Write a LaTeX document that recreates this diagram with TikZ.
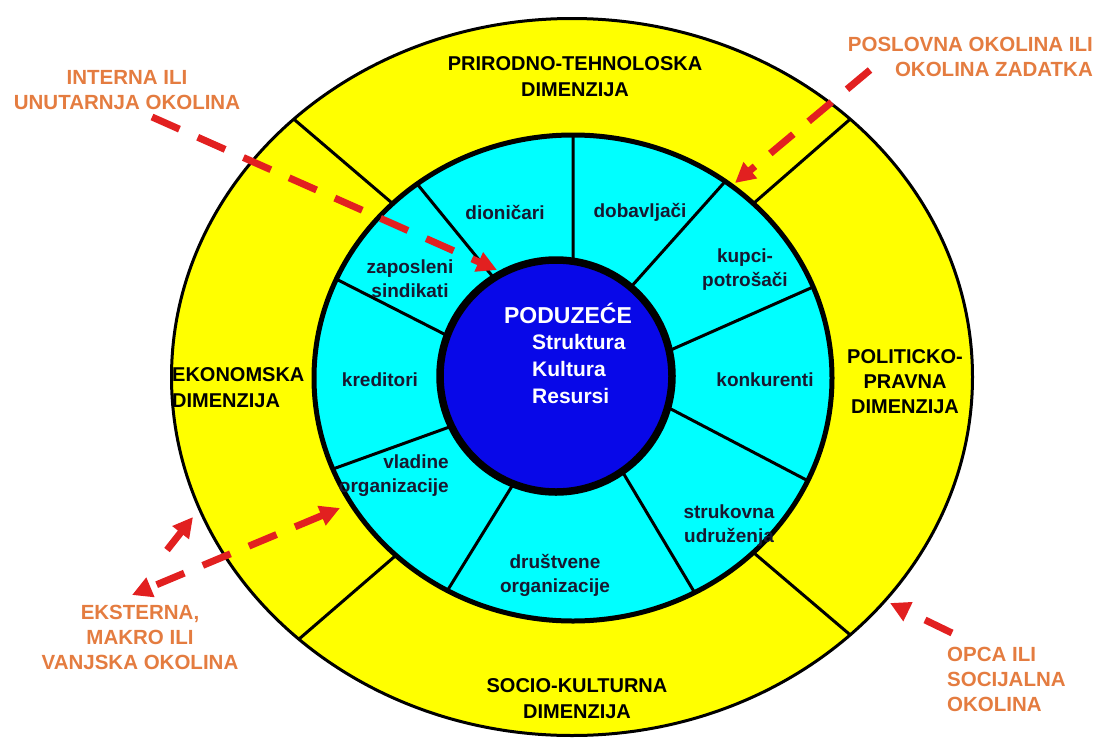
\documentclass[tikz,border=0pt]{standalone}
\usepackage{fontspec}
\setmainfont{Liberation Sans}
\usetikzlibrary{arrows.meta,calc}

\definecolor{ringyellow}{RGB}{255,255,0}
\definecolor{ringcyan}{RGB}{0,255,255}
\definecolor{coreblue}{RGB}{8,8,232}
\definecolor{notered}{RGB}{226,32,32}
\definecolor{noteorange}{RGB}{228,124,64}
\definecolor{labelnavy}{RGB}{24,24,48}

\tikzset{dimlabel/.style = {inner sep = 0pt,
                            align = center,
                            text = black,
                            font = \fontsize{20}{26}\selectfont\bfseries},
         stakelabel/.style = {inner sep = 0pt,
                              align = center,
                              text = labelnavy,
                              font = \fontsize{19}{24}\selectfont\bfseries},
         notelabel/.style = {inner sep = 0pt,
                             align = center,
                             text = noteorange,
                             font = \fontsize{20.5}{25}\selectfont\bfseries},
         divider/.style = {draw = black,
                           line width = 3pt},
         notearrow/.style = {draw = notered,
                             line width = 7pt,
                             dash pattern = on 30pt off 20pt,
                             -{Triangle[length=20pt,width=20pt]}}}

\begin{document}
\begin{tikzpicture}[x=1pt, y=-1pt]
	\useasboundingbox (0,0) rectangle (1101,742);
	\coordinate (c) at (572,377);
	\coordinate (cc) at (573,378);
	\coordinate (bc) at (556,376);
	% opca okolina
	\draw[fill=ringyellow, line width=3pt] (c) ellipse [x radius=400.5pt, y radius=358.5pt];
	\foreach \t in {46,134,227,314}
		\draw[divider] ($(cc)+(\t:259pt and 242pt)$) -- ($(c)+(\t:400.5pt and 358.5pt)$);
	% poslovna okolina
	\draw[fill=ringcyan, line width=5pt] (cc) ellipse [x radius=259pt, y radius=243pt];
	\foreach \a/\t in {81/90,50/54,12/22,345/335,305/298,249/241,206/202,160/156,122/127}
		\draw[divider] ($(bc)+(\a:110pt)$) -- ($(cc)+(\t:259pt and 243pt)$);
	% poduzece
	\draw[fill=coreblue, line width=7.5pt] (bc) circle [radius=116pt];

	\node[text=white, inner sep=0pt, font=\fontsize{23}{27}\selectfont\bfseries] (poduzece) at (568,313) {PODUZEĆE};
	\node[text=white, inner sep=0pt, align=left, anchor=west,
	      font=\fontsize{21}{27}\selectfont\bfseries] (sastav) at (532,369) {Struktura\\Kultura\\Resursi};

	\node[stakelabel] (dionicari) at (505,212) {dioničari};
	\node[stakelabel] (dobavljaci) at (640,212) {dobavljači};
	\node[stakelabel] (kupci) at (745,270) {kupci-\\potrošači};
	\node[stakelabel] (konkurenti) at (765,380) {konkurenti};
	\node[stakelabel] (strukovna) at (729,526) {strukovna\\udruženja};
	\node[stakelabel] (drustvene) at (555,575) {društvene\\organizacije};
	\node[stakelabel, align=right, anchor=east] (vladine) at (449,476) {vladine\\organizacije};
	\node[stakelabel] (kreditori) at (380,380) {kreditori};
	\node[stakelabel] (zaposleni) at (410,279) {zaposleni\\sindikati};

	\node[dimlabel] (prirodno) at (575,77) {PRIRODNO-TEHNOLOSKA\\DIMENZIJA};
	\node[dimlabel, align=left, anchor=west] (ekonomska) at (172,388) {EKONOMSKA\\DIMENZIJA};
	\node[dimlabel, font=\fontsize{20}{25}\selectfont\bfseries] (politicko) at (905,382) {POLITICKO-\\PRAVNA\\DIMENZIJA};
	\node[dimlabel] (socio) at (577,699) {SOCIO-KULTURNA\\DIMENZIJA};

	\node[notelabel] (interna) at (127,90) {INTERNA ILI\\UNUTARNJA OKOLINA};
	\node[notelabel, align=right, anchor=east] (poslovna) at (1093,57) {POSLOVNA OKOLINA ILI\\OKOLINA ZADATKA};
	\node[notelabel] (eksterna) at (140,637) {EKSTERNA,\\MAKRO ILI\\VANJSKA OKOLINA};
	\node[notelabel, align=left, anchor=west] (opca) at (947,679) {OPCA ILI\\SOCIJALNA\\OKOLINA};

	\coordinate (int-a) at (152,117);
	\coordinate (int-b) at (497,270);
	\coordinate (pos-a) at (870,70);
	\coordinate (pos-b) at (735,183);
	\coordinate (eks-a) at (167,550);
	\coordinate (eks-b) at (193,517);
	\coordinate (eks-c) at (132,595);
	\coordinate (eks-d) at (340,508);
	\coordinate (opc-a) at (952,633);
	\coordinate (opc-b) at (890,603);

	\draw[notearrow] (int-a) -- (int-b);
	\draw[notearrow] (pos-a) -- (pos-b);
	\draw[notearrow] (eks-a) -- (eks-b);
	\draw[notearrow, {Triangle[length=20pt,width=20pt]}-{Triangle[length=20pt,width=20pt]}] (eks-d) -- (eks-c);
	\draw[notearrow] (opc-a) -- (opc-b);
\end{tikzpicture}
\end{document}
